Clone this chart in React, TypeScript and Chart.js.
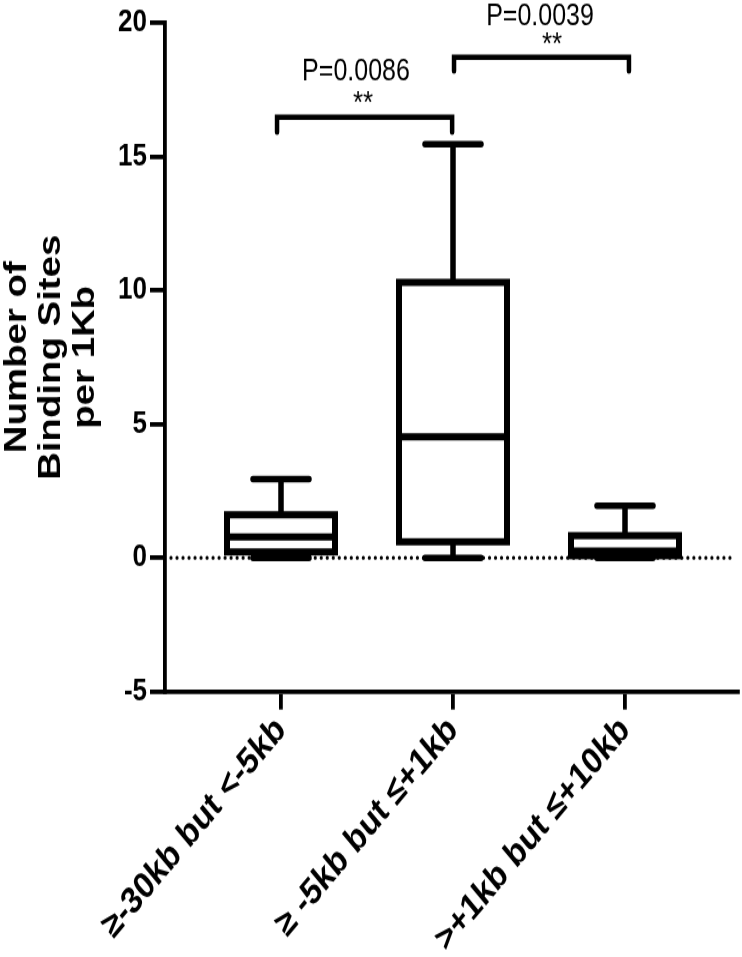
import React, { useEffect, useRef } from 'react';
import { Chart, registerables } from 'chart.js';

Chart.register(...registerables);

// ---------- data ----------
const categories = ['≥-30kb but <-5kb', '≥ -5kb but ≤+1kb', '>+1kb but ≤+10kb'];
const whiskerMin = [0, 0, 0];
const q1 = [0.22, 0.6, 0.08];
const median = [0.78, 4.52, 0.25];
const q3 = [1.61, 10.3, 0.83];
const whiskerMax = [2.95, 15.47, 1.95];
const yTicks = [-5, 0, 5, 10, 15, 20];
const yTitle = ['Number of', 'Binding Sites', 'per 1Kb'];

const bracketFrom = [0.977, 2.006];
const bracketTo = [1.995, 3.023];
const bracketY = [16.48, 18.72];
const bracketDropTo = [15.92, 18.2];
const pLabels = ['P=0.0086', 'P=0.0039'];
const pLabelX = [1.436, 2.506];
const pLabelY = [17.86, 19.92];
const starLabels = ['**', '**'];
const starX = [1.477, 2.576];
const starY = [16.63, 18.83];

// ---------- layout / style ----------
const W = 742;
const H = 957;
const STRETCH = 1.2;
const IH = Math.round(H / STRETCH);
const FONT = '"Liberation Sans", Arial, Helvetica, sans-serif';
const PLOT_TOP = 23 / STRETCH;
const PLOT_BOTTOM = 692 / STRETCH;

const boxPlugin = {
  id: 'boxplotDraw',
  beforeDatasetsDraw(chart: any) {
    const { ctx, chartArea } = chart;
    const x = chart.scales.x;
    const y = chart.scales.y;
    // dotted zero line
    ctx.save();
    ctx.strokeStyle = '#000';
    ctx.lineWidth = 3.2;
    ctx.lineCap = 'round';
    ctx.setLineDash([0.01, 6]);
    const y0 = y.getPixelForValue(0);
    ctx.beginPath();
    ctx.moveTo(chartArea.left + 6, y0);
    ctx.lineTo(chartArea.right - 3, y0);
    ctx.stroke();
    ctx.restore();

    const BOX_HALF = 54;
    const CAP_HALF = 28;
    ctx.save();
    ctx.strokeStyle = '#000';
    for (let i = 0; i < categories.length; i++) {
      const cx = x.getPixelForValue(i + 1);
      const yMin = y.getPixelForValue(whiskerMin[i]);
      const yQ1 = y.getPixelForValue(q1[i]);
      const yMed = y.getPixelForValue(median[i]);
      const yQ3 = y.getPixelForValue(q3[i]);
      const yMax = y.getPixelForValue(whiskerMax[i]);
      // whiskers
      ctx.lineWidth = 5.5;
      ctx.lineCap = 'butt';
      ctx.beginPath();
      ctx.moveTo(cx, yQ3);
      ctx.lineTo(cx, yMax);
      ctx.moveTo(cx, yQ1);
      ctx.lineTo(cx, yMin);
      ctx.stroke();
      // caps
      ctx.lineWidth = 5.5;
      ctx.lineCap = 'round';
      ctx.beginPath();
      ctx.moveTo(cx - CAP_HALF, yMax);
      ctx.lineTo(cx + CAP_HALF, yMax);
      ctx.moveTo(cx - CAP_HALF, yMin);
      ctx.lineTo(cx + CAP_HALF, yMin);
      ctx.stroke();
      // box
      ctx.lineCap = 'butt';
      ctx.lineJoin = 'miter';
      ctx.fillStyle = '#fff';
      ctx.fillRect(cx - BOX_HALF, yQ3, BOX_HALF * 2, yQ1 - yQ3);
      ctx.lineWidth = 6;
      ctx.strokeRect(cx - BOX_HALF, yQ3, BOX_HALF * 2, yQ1 - yQ3);
      ctx.beginPath();
      ctx.moveTo(cx - BOX_HALF, yMed);
      ctx.lineTo(cx + BOX_HALF, yMed);
      ctx.stroke();
    }
    ctx.restore();
  },
  afterDraw(chart: any) {
    const { ctx } = chart;
    const x = chart.scales.x;
    const y = chart.scales.y;
    ctx.save();
    ctx.strokeStyle = '#000';
    ctx.fillStyle = '#000';
    ctx.lineWidth = 4.5;
    ctx.lineCap = 'round';
    ctx.lineJoin = 'miter';
    for (let i = 0; i < pLabels.length; i++) {
      const xa = x.getPixelForValue(bracketFrom[i]);
      const xb = x.getPixelForValue(bracketTo[i]);
      const yb = y.getPixelForValue(bracketY[i]);
      const yd = y.getPixelForValue(bracketDropTo[i]);
      ctx.beginPath();
      ctx.moveTo(xa, yd);
      ctx.lineTo(xa, yb);
      ctx.lineTo(xb, yb);
      ctx.lineTo(xb, yd);
      ctx.stroke();
      ctx.textAlign = 'center';
      ctx.textBaseline = 'alphabetic';
      ctx.font = `25px ${FONT}`;
      ctx.fillText(pLabels[i], x.getPixelForValue(pLabelX[i]), y.getPixelForValue(pLabelY[i]));
      ctx.font = `26px ${FONT}`;
      ctx.fillText(starLabels[i], x.getPixelForValue(starX[i]), y.getPixelForValue(starY[i]));
    }
    ctx.restore();
  },
};

export default function App() {
  const ref = useRef<HTMLCanvasElement | null>(null);
  useEffect(() => {
    const canvas = ref.current;
    if (!canvas) return;
    const chart = new Chart(canvas, {
      type: 'scatter',
      data: { datasets: [{ data: [], pointRadius: 0 }] },
      options: {
        responsive: false,
        animation: false,
        devicePixelRatio: 1,
        layout: { padding: { top: PLOT_TOP, right: 4, left: 0, bottom: 0 } },
        plugins: { legend: { display: false }, tooltip: { enabled: false } },
        scales: {
          x: {
            type: 'linear',
            min: 0.3256,
            max: 3.657,
            afterBuildTicks: (s: any) => {
              s.ticks = categories.map((_, i) => ({ value: i + 1 }));
            },
            afterFit: (s: any) => {
              s.height = IH - PLOT_BOTTOM;
            },
            ticks: {
              autoSkip: false,
              minRotation: 45,
              maxRotation: 45,
              padding: -1,
              color: '#000',
              font: { family: FONT, size: 31, weight: 'bold' },
              callback: (v: any) => categories[Math.round(Number(v)) - 1] ?? '',
            },
            grid: { drawOnChartArea: false, drawTicks: true, tickLength: 15, lineWidth: 3.8, color: '#000' },
            border: { display: true, width: 3.8, color: '#000' },
          },
          y: {
            type: 'linear',
            min: -5,
            max: 20,
            afterBuildTicks: (s: any) => {
              s.ticks = yTicks.map((v) => ({ value: v }));
            },
            afterFit: (s: any) => {
              s.width = 165;
            },
            ticks: { padding: 3, color: '#000', font: { family: FONT, size: 26, weight: 'bold' } },
            grid: { drawOnChartArea: false, drawTicks: true, tickLength: 15, lineWidth: 3.8, color: '#000' },
            border: { display: true, width: 3.8, color: '#000' },
            title: {
              display: true,
              text: yTitle,
              color: '#000',
              font: { family: FONT, size: 32, weight: 'bold', lineHeight: 1.06 },
              padding: { top: 0, bottom: 0 },
            },
          },
        },
      },
      plugins: [boxPlugin],
    } as any);
    return () => chart.destroy();
  }, []);
  return (
    <canvas
      ref={ref}
      width={W}
      height={IH}
      style={{ position: 'fixed', left: 0, top: 0, width: `${W}px`, height: `${H}px`, display: 'block', background: '#fff' }}
    />
  );
}
